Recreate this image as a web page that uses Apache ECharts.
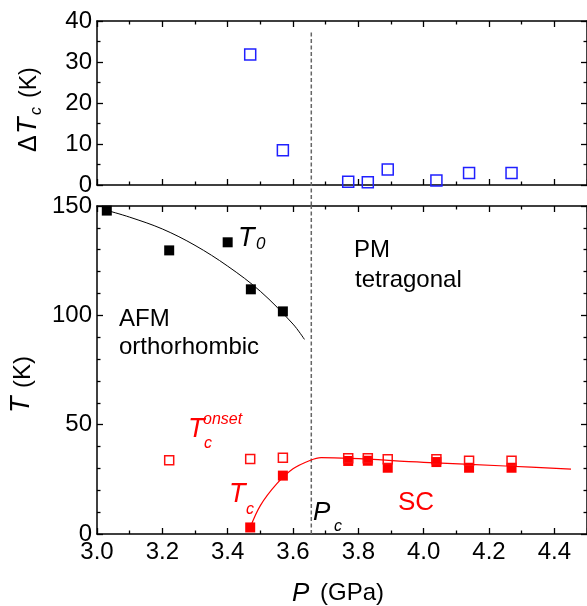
<!DOCTYPE html>
<html><head><meta charset="utf-8">
<script src="https://cdn.jsdelivr.net/npm/echarts@6/dist/echarts.min.js"></script>
<style>html,body{margin:0;padding:0;background:#fff}#c{width:587px;height:606px}</style>
</head><body><div id="c"></div>
<script>
// ---- data ----
const pDelta = [3.469, 3.569, 3.769, 3.829, 3.890, 4.039, 4.139, 4.269];
const deltaTc = [31.8, 8.5, 0.8, 0.7, 3.8, 1.1, 2.9, 2.9];
const pT0 = [3.030, 3.221, 3.400, 3.471, 3.569];
const t0 = [147.9, 129.7, 133.4, 111.9, 101.8];
const pOnset = [3.221, 3.469, 3.569, 3.769, 3.829, 3.890, 4.039, 4.139, 4.269];
const tcOnset = [33.7, 34.3, 34.9, 34.6, 34.6, 34.2, 34.2, 33.5, 33.5];
const pTc = [3.469, 3.569, 3.769, 3.829, 3.890, 4.039, 4.139, 4.269];
const tc = [3.0, 26.7, 33.4, 33.5, 30.3, 32.9, 30.3, 30.3];
const fitT0P = [3.03, 3.10, 3.20, 3.30, 3.40, 3.50, 3.60, 3.635];
const fitT0 = [148.0, 144.9, 139.5, 132.0, 122.5, 111.0, 96.0, 89.0];
const fitTcP = [3.469, 3.500, 3.550, 3.600, 3.650, 3.686, 4.000, 4.250, 4.451];
const fitTc = [3.0, 13.0, 22.9, 29.8, 33.5, 34.9, 32.8, 31.1, 29.7];
const pc = 3.656;
const pcTopLine = [37.2, -5.1];
const pcBottomLine = [0, 150];
const xTickLabels = ['3.0', '3.2', '3.4', '3.6', '3.8', '4.0', '4.2', '4.4'];
const yTopTicks = [0, 10, 20, 30, 40];
const yBottomTicks = [0, 50, 100, 150];

const zip = (a, b) => a.map((v, i) => [v, b[i]]);
const FONT = 'Liberation Sans, Arial, Helvetica, sans-serif';
const AX = '#000';

function xAx(grid, pos, labels) {
  return {
    type: 'value', gridIndex: grid, position: pos, min: 3.0, max: 4.5, interval: 0.2,
    axisLine: { onZero: false, lineStyle: { color: AX, width: 1.5 } },
    axisTick: { inside: true, length: 6, lineStyle: { color: AX, width: 1.3 } },
    minorTick: { show: true, splitNumber: 2, length: 3.5, lineStyle: { color: AX, width: 1.3 } },
    splitLine: { show: false }, minorSplitLine: { show: false },
    axisLabel: labels ? {
      show: true, margin: 6, color: '#000', fontSize: 24, fontFamily: FONT, showMaxLabel: false,
      formatter: v => { const i = Math.round((v - 3.0) / 0.2); return Math.abs(v - (3.0 + i * 0.2)) < 1e-6 && xTickLabels[i] ? xTickLabels[i] : ''; }
    } : { show: false }
  };
}
function yAx(grid, pos, min, max, interval, minorSplit, ticks) {
  return {
    type: 'value', gridIndex: grid, position: pos, min: min, max: max, interval: interval,
    axisLine: { show: true, onZero: false, lineStyle: { color: AX, width: 1.5 } },
    axisTick: { inside: true, length: 6, lineStyle: { color: AX, width: 1.3 } },
    minorTick: { show: true, splitNumber: minorSplit, length: 3.5, lineStyle: { color: AX, width: 1.3 } },
    splitLine: { show: false }, minorSplitLine: { show: false },
    axisLabel: ticks ? { show: true, margin: 5, color: '#000', fontSize: 24, fontFamily: FONT,
      formatter: v => ticks.indexOf(v) >= 0 ? String(v) : '' } : { show: false }
  };
}
function txt(x, y, s, size, color, italic) {
  return { type: 'text', x: x, y: y, silent: true,
    style: { text: s, fontSize: size, fontFamily: FONT, fontStyle: italic ? 'italic' : 'normal',
      fill: color, align: 'left', verticalAlign: 'middle' } };
}

const chart = echarts.init(document.getElementById('c'), null, { renderer: 'canvas' });
chart.setOption({
  animation: false,
  backgroundColor: '#fff',
  grid: [
    { left: 97, right: -1, top: 21, height: 164 },
    { left: 97, right: -1, top: 206, height: 328 }
  ],
  xAxis: [xAx(0, 'bottom', false), xAx(0, 'top', false), xAx(1, 'bottom', true), xAx(1, 'top', false)],
  yAxis: [
    yAx(0, 'left', 0, 40, 10, 2, yTopTicks), yAx(0, 'right', 0, 40, 10, 2, null),
    yAx(1, 'left', 0, 150, 50, 5, yBottomTicks), yAx(1, 'right', 0, 150, 50, 5, null)
  ],
  series: [
    { type: 'line', xAxisIndex: 0, yAxisIndex: 0, data: pcTopLine.map(v => [pc, v]), clip: false,
      showSymbol: false, silent: true, lineStyle: { color: '#666', width: 1.5, type: [4, 2.5] } },
    { type: 'line', xAxisIndex: 2, yAxisIndex: 2, data: pcBottomLine.map(v => [pc, v]), clip: false,
      showSymbol: false, silent: true, lineStyle: { color: '#666', width: 1.5, type: [4, 2.5] } },
    { type: 'scatter', xAxisIndex: 0, yAxisIndex: 0, data: zip(pDelta, deltaTc), symbol: 'rect', symbolSize: 11,
      itemStyle: { color: 'rgba(0,0,0,0)', borderColor: '#2020ff', borderWidth: 1.5, opacity: 1 } },
    { type: 'line', xAxisIndex: 2, yAxisIndex: 2, data: zip(fitT0P, fitT0), smooth: 0.35,
      showSymbol: false, lineStyle: { color: '#000', width: 1 } },
    { type: 'scatter', xAxisIndex: 2, yAxisIndex: 2, data: zip(pT0, t0), symbol: 'rect', symbolSize: 10,
      itemStyle: { color: '#000', opacity: 1 } },
    { type: 'scatter', xAxisIndex: 2, yAxisIndex: 2, data: zip(pTc, tc), symbol: 'rect', symbolSize: 10,
      itemStyle: { color: '#ff0000', opacity: 1 } },
    { type: 'scatter', xAxisIndex: 2, yAxisIndex: 2, data: zip(pOnset, tcOnset), symbol: 'rect', symbolSize: 9,
      itemStyle: { color: 'rgba(0,0,0,0)', borderColor: '#ff1010', borderWidth: 1.5, opacity: 1 } },
    { type: 'line', xAxisIndex: 2, yAxisIndex: 2, data: zip(fitTcP, fitTc), smooth: 0.35,
      showSymbol: false, z: 5, lineStyle: { color: '#ff0000', width: 1.2 } }
  ],
  graphic: [
    txt(238, 238.6, 'T', 27, '#000', true), txt(256, 244.1, '0', 17, '#000', true),
    txt(119, 319, 'AFM', 24, '#000', false), txt(119, 347.4, 'orthorhombic', 24, '#000', false),
    txt(354, 250.5, 'PM', 24, '#000', false), txt(355, 280.7, 'tetragonal', 24, '#000', false),
    txt(188, 429.9, 'T', 27, '#ff0000', true), txt(203, 419.5, 'onset', 16, '#ff0000', true),
    txt(204, 443.8, 'c', 16, '#ff0000', true),
    txt(229, 494.9, 'T', 27, '#ff0000', true), txt(246, 509.5, 'c', 16, '#ff0000', true),
    txt(313, 512.7, 'P', 26, '#000', true), txt(334, 526.8, 'c', 16, '#000', true),
    txt(398, 503.3, 'SC', 26, '#ff0000', false),
    txt(292, 593.7, 'P', 26, '#000', true), txt(320, 593.5, '(GPa)', 24, '#000', false),
    { type: 'group', x: 0, y: 152, rotation: Math.PI / 2, silent: true, children: [
      txt(0, 29, '\u0394', 25, '#000', false), txt(18, 28, 'T', 27, '#000', true),
      txt(37, 36.1, 'c', 16, '#000', true), txt(54, 29.5, '(K)', 23, '#000', false)
    ] },
    { type: 'group', x: 0, y: 413, rotation: Math.PI / 2, silent: true, children: [
      txt(0, 21.7, 'T', 27, '#000', true), txt(25, 23, '(K)', 24, '#000', false)
    ] }
  ]
});
</script></body></html>
